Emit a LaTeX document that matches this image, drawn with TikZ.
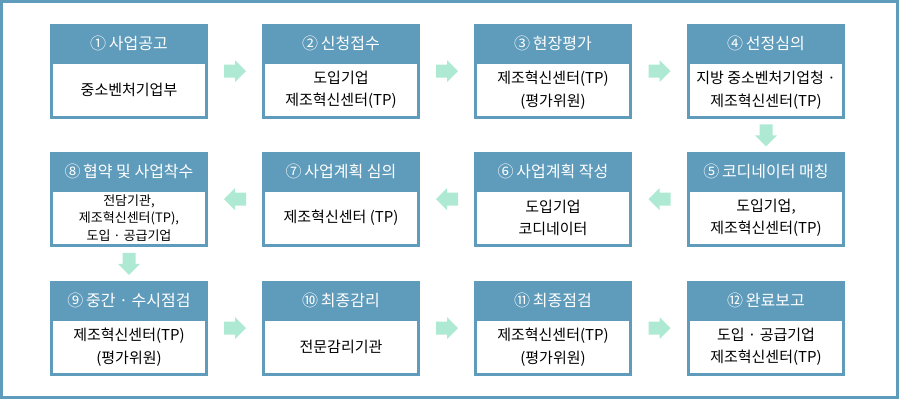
\documentclass[tikz,border=0pt]{standalone}
\usepackage{fontspec}
\setmainfont{Noto Sans CJK KR}
\usetikzlibrary{calc}
\definecolor{frameblue}{HTML}{5F9BBB}
\definecolor{arrowgreen}{HTML}{ADE9D3}
\begin{document}
\begin{tikzpicture}[x=1pt,y=-1pt,
  head/.style={rectangle, fill=frameblue, text=white, minimum width=158pt, minimum height=38pt, inner sep=0pt, font=\fontsize{16}{18}\selectfont},
  body/.style={rectangle, fill=white, draw=frameblue, line width=3pt, minimum width=155pt, minimum height=55pt, inner sep=0pt, align=center, font=\fontsize{15}{22.5}\selectfont},
  smallbody/.style={body, font=\fontsize{13}{17.5}\selectfont},
  pics/flowright/.style={code={\fill[arrowgreen] (-11,-6.5) -- (0,-6.5) -- (0,-11) -- (11,0) -- (0,11) -- (0,6.5) -- (-11,6.5) -- cycle;}},
  pics/flowleft/.style={code={\fill[arrowgreen] (11,-6.5) -- (0,-6.5) -- (0,-11) -- (-11,0) -- (0,11) -- (0,6.5) -- (11,6.5) -- cycle;}},
  pics/flowdown/.style={code={\fill[arrowgreen] (-6.5,-11) -- (-6.5,0) -- (-11,0) -- (0,11) -- (11,0) -- (6.5,0) -- (6.5,-11) -- cycle;}}
]
\useasboundingbox (0,0) rectangle (900,400);
\draw[frameblue, line width=3pt] (1.5,1.5) rectangle (897.5,397.5);

% row 1 (top 24)
\node[body] (b1) at (129,90) {중소벤처기업부};
\node[head] (h1) at (129,43) {①\,사업공고};
\node[body] (b2) at (341,90) {도입기업\\제조혁신센터(TP)};
\node[head] (h2) at (341,43) {②\,신청접수};
\node[body] (b3) at (553,90) {제조혁신센터(TP)\\(평가위원)};
\node[head] (h3) at (553,43) {③\,현장평가};
\node[body] (b4) at (766,90) {지방 중소벤처기업청 ·\\제조혁신센터(TP)};
\node[head] (h4) at (766,43) {④\,선정심의};

% row 2 (top 152)
\node[body] (b5) at (766,218) {도입기업,\\제조혁신센터(TP)};
\node[head] (h5) at (766,171) {⑤\,코디네이터 매칭};
\node[body] (b6) at (553,218) {도입기업\\코디네이터};
\node[head] (h6) at (553,171) {⑥\,사업계획 작성};
\node[body] (b7) at (341,218) {제조혁신센터 (TP)};
\node[head] (h7) at (341,171) {⑦\,사업계획 심의};
\node[smallbody] (b8) at (129,218) {전담기관,\\제조혁신센터(TP),\\도입 · 공급기업};
\node[head] (h8) at (129,171) {⑧\,협약 및 사업착수};

% row 3 (top 281)
\node[body] (b9) at (129,347) {제조혁신센터(TP)\\(평가위원)};
\node[head] (h9) at (129,300) {⑨\,중간 · 수시점검};
\node[body] (b10) at (341,347) {전문감리기관};
\node[head] (h10) at (341,300) {⑩\,최종감리};
\node[body] (b11) at (553,347) {제조혁신센터(TP)\\(평가위원)};
\node[head] (h11) at (553,300) {⑪\,최종점검};
\node[body] (b12) at (766,347) {도입 · 공급기업\\제조혁신센터(TP)};
\node[head] (h12) at (766,300) {⑫\,완료보고};

% arrow anchor points
\coordinate (a12) at ($($(h1.south east)!0.5!(h2.south west)$)+(0,9)$);
\coordinate (a23) at ($($(h2.south east)!0.5!(h3.south west)$)+(0,9)$);
\coordinate (a34) at ($($(h3.south east)!0.5!(h4.south west)$)+(0,9)$);
\coordinate (a45) at ($(b4.south)!0.5!(h5.north)$);
\coordinate (a56) at ($($(h6.south east)!0.5!(h5.south west)$)+(0,9)$);
\coordinate (a67) at ($($(h7.south east)!0.5!(h6.south west)$)+(0,9)$);
\coordinate (a78) at ($($(h8.south east)!0.5!(h7.south west)$)+(0,9)$);
\coordinate (a89) at ($(b8.south)!0.5!(h9.north)$);
\coordinate (a910) at ($($(h9.south east)!0.5!(h10.south west)$)+(0,9)$);
\coordinate (a1011) at ($($(h10.south east)!0.5!(h11.south west)$)+(0,9)$);
\coordinate (a1112) at ($($(h11.south east)!0.5!(h12.south west)$)+(0,9)$);

\pic at (a12) {flowright};
\pic at (a23) {flowright};
\pic at (a34) {flowright};
\pic at (a45) {flowdown};
\pic at (a56) {flowleft};
\pic at (a67) {flowleft};
\pic at (a78) {flowleft};
\pic at (a89) {flowdown};
\pic at (a910) {flowright};
\pic at (a1011) {flowright};
\pic at (a1112) {flowright};
\end{tikzpicture}
\end{document}
